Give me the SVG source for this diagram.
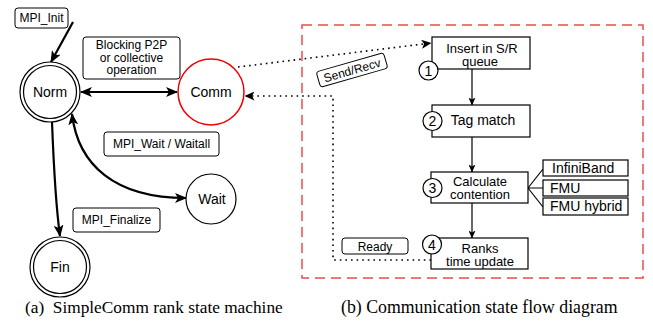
<svg xmlns="http://www.w3.org/2000/svg" width="653" height="321" viewBox="0 0 653 321">
<style>
text{font-family:"Liberation Sans",Arial,sans-serif;fill:#000}
.l12{font-size:12px;text-anchor:middle}
.l14{font-size:14px;text-anchor:middle}
.l13{font-size:13px;text-anchor:middle}
.cap{font-family:"Liberation Serif","Times New Roman",serif;white-space:pre}
.lbl{fill:#fff;stroke:#000;stroke-width:1}
.st{fill:#fff;stroke:#000;stroke-width:1.2}
.box{fill:#fff;stroke:#000;stroke-width:1.2}
.num{fill:#fff;stroke:#000;stroke-width:1.2}
.thick{fill:none;stroke:#000;stroke-width:2.2}
.thin{fill:none;stroke:#000;stroke-width:1.2}
.dot{fill:none;stroke:#000;stroke-width:1.6;stroke-dasharray:1.6 4;stroke-linecap:butt}
</style>
<defs>
<marker id="ab" viewBox="0 0 12 10" refX="11" refY="5" markerWidth="12" markerHeight="10" markerUnits="userSpaceOnUse" orient="auto-start-reverse"><path d="M0,0 L12,5 L0,10 L3,5 z" fill="#000"/></marker>
<marker id="as" viewBox="0 0 8 7" refX="7.5" refY="3.5" markerWidth="8" markerHeight="7" markerUnits="userSpaceOnUse" orient="auto"><path d="M0,0 L8,3.5 L0,7 L2,3.5 z" fill="#000"/></marker>
<marker id="ad" viewBox="0 0 10 9" refX="9.5" refY="4.5" markerWidth="10" markerHeight="9" markerUnits="userSpaceOnUse" orient="auto"><path d="M0,0 L10,4.5 L0,9 L2.5,4.5 z" fill="#000"/></marker>
</defs>

<!-- dashed frame -->
<rect id="frame" x="302" y="25" width="341" height="253" fill="none" stroke="#ec4c4c" stroke-width="1.5" stroke-dasharray="10 6"/>

<g id="connectors">
<line class="thick" x1="73" y1="22" x2="51" y2="62" marker-end="url(#ab)"/>
<line class="thick" x1="81" y1="92" x2="177" y2="92" marker-start="url(#ab)" marker-end="url(#ab)"/>
<path class="thick" d="M52,122 Q55,200 60,236" marker-end="url(#ab)"/>
<path class="thick" d="M72,114 C78,165 115,198 186,198" marker-start="url(#ab)" marker-end="url(#ab)"/>
<line class="dot" x1="238" y1="67" x2="431" y2="43" marker-end="url(#ad)"/>
<path class="dot" d="M431,260 L333,260 L333,96 L245,96" marker-end="url(#ad)"/>
<line class="thin" x1="472" y1="69" x2="472" y2="105" marker-end="url(#as)"/>
<line class="thin" x1="472" y1="137" x2="472" y2="172" marker-end="url(#as)"/>
<line class="thin" x1="472" y1="202" x2="472" y2="238" marker-end="url(#as)"/>
<path class="thin" d="M528,188 L543,169 M528,188 L543,188 M528,188 L543,207"/>
</g>

<g id="lbl-init"><rect class="lbl" x="15" y="8" width="53" height="20" rx="3"/><text class="l12" x="41.5" y="22">MPI_Init</text></g>
<g id="lbl-blocking"><rect class="lbl" x="83" y="37" width="97" height="42" rx="3"/>
<text class="l12" x="131.5" y="49">Blocking P2P</text><text class="l12" x="131.5" y="62">or collective</text><text class="l12" x="131.5" y="74">operation</text></g>
<g id="lbl-wait"><rect class="lbl" x="104" y="132" width="115" height="24" rx="3"/><text class="l12" x="161.5" y="148">MPI_Wait / Waitall</text></g>
<g id="lbl-finalize"><rect class="lbl" x="73" y="208" width="87" height="24" rx="3"/><text class="l12" x="116.5" y="224">MPI_Finalize</text></g>
<g id="lbl-sendrecv" transform="translate(352,70) rotate(-16)"><rect class="lbl" x="-35" y="-8" width="70" height="16" rx="3"/><text class="l12" x="0" y="4.5">Send/Recv</text></g>
<g id="lbl-ready"><rect class="lbl" x="342" y="238" width="66" height="16" rx="3"/><text class="l12" x="375" y="251">Ready</text></g>

<g id="norm"><circle class="st" cx="50" cy="92" r="30"/><circle class="st" cx="50" cy="92" r="26.5"/><text class="l14" x="50" y="97">Norm</text></g>
<g id="comm"><circle cx="211" cy="92" r="33" fill="#fff" stroke="#e00" stroke-width="1.5"/><text class="l14" x="211" y="97">Comm</text></g>
<g id="wait"><circle class="st" cx="211" cy="199" r="25"/><text class="l14" x="212" y="204">Wait</text></g>
<g id="fin"><circle class="st" cx="60" cy="267" r="30"/><circle class="st" cx="60" cy="267" r="26.5"/><text class="l14" x="60" y="272">Fin</text></g>

<g id="insert"><rect class="box" x="432" y="37" width="98" height="32"/><text class="l13" x="482" y="52.5">Insert in S/R</text><text class="l13" x="480" y="65.5">queue</text>
<circle class="num" cx="428.5" cy="70.5" r="9.5"/><text class="l14" x="428.5" y="75.5">1</text></g>
<g id="tag"><rect class="box" x="432" y="105" width="98" height="32"/><text class="l14" x="483" y="125">Tag match</text>
<circle class="num" cx="432.5" cy="121" r="9.5"/><text class="l14" x="432.5" y="126">2</text></g>
<g id="calc"><rect class="box" x="431" y="172" width="97" height="31"/><text class="l13" x="480" y="185.5">Calculate</text><text class="l13" x="480" y="198.5">contention</text>
<circle class="num" cx="432.5" cy="188" r="9.5"/><text class="l14" x="432.5" y="193">3</text></g>
<g id="ranks"><rect class="box" x="431" y="238" width="97" height="31"/><text class="l13" x="480" y="252.5">Ranks</text><text class="l13" x="480" y="265.5">time update</text>
<circle class="num" cx="432" cy="244.5" r="9.5"/><text class="l14" x="432" y="249.5">4</text></g>
<g id="infiniband"><rect class="box" x="543" y="160" width="85" height="16"/><text x="552" y="173" font-size="14">InfiniBand</text></g>
<g id="fmu"><rect class="box" x="543" y="180" width="85" height="16"/><text x="550" y="193" font-size="14">FMU</text></g>
<g id="fmuhybrid"><rect class="box" x="543" y="198" width="85" height="17"/><text x="550" y="211" font-size="14">FMU hybrid</text></g>

<text class="cap" x="25" y="313" font-size="17.3">(a)  SimpleComm rank state machine</text>
<text class="cap" x="341" y="313" font-size="17.8">(b) Communication state flow diagram</text>
</svg>
